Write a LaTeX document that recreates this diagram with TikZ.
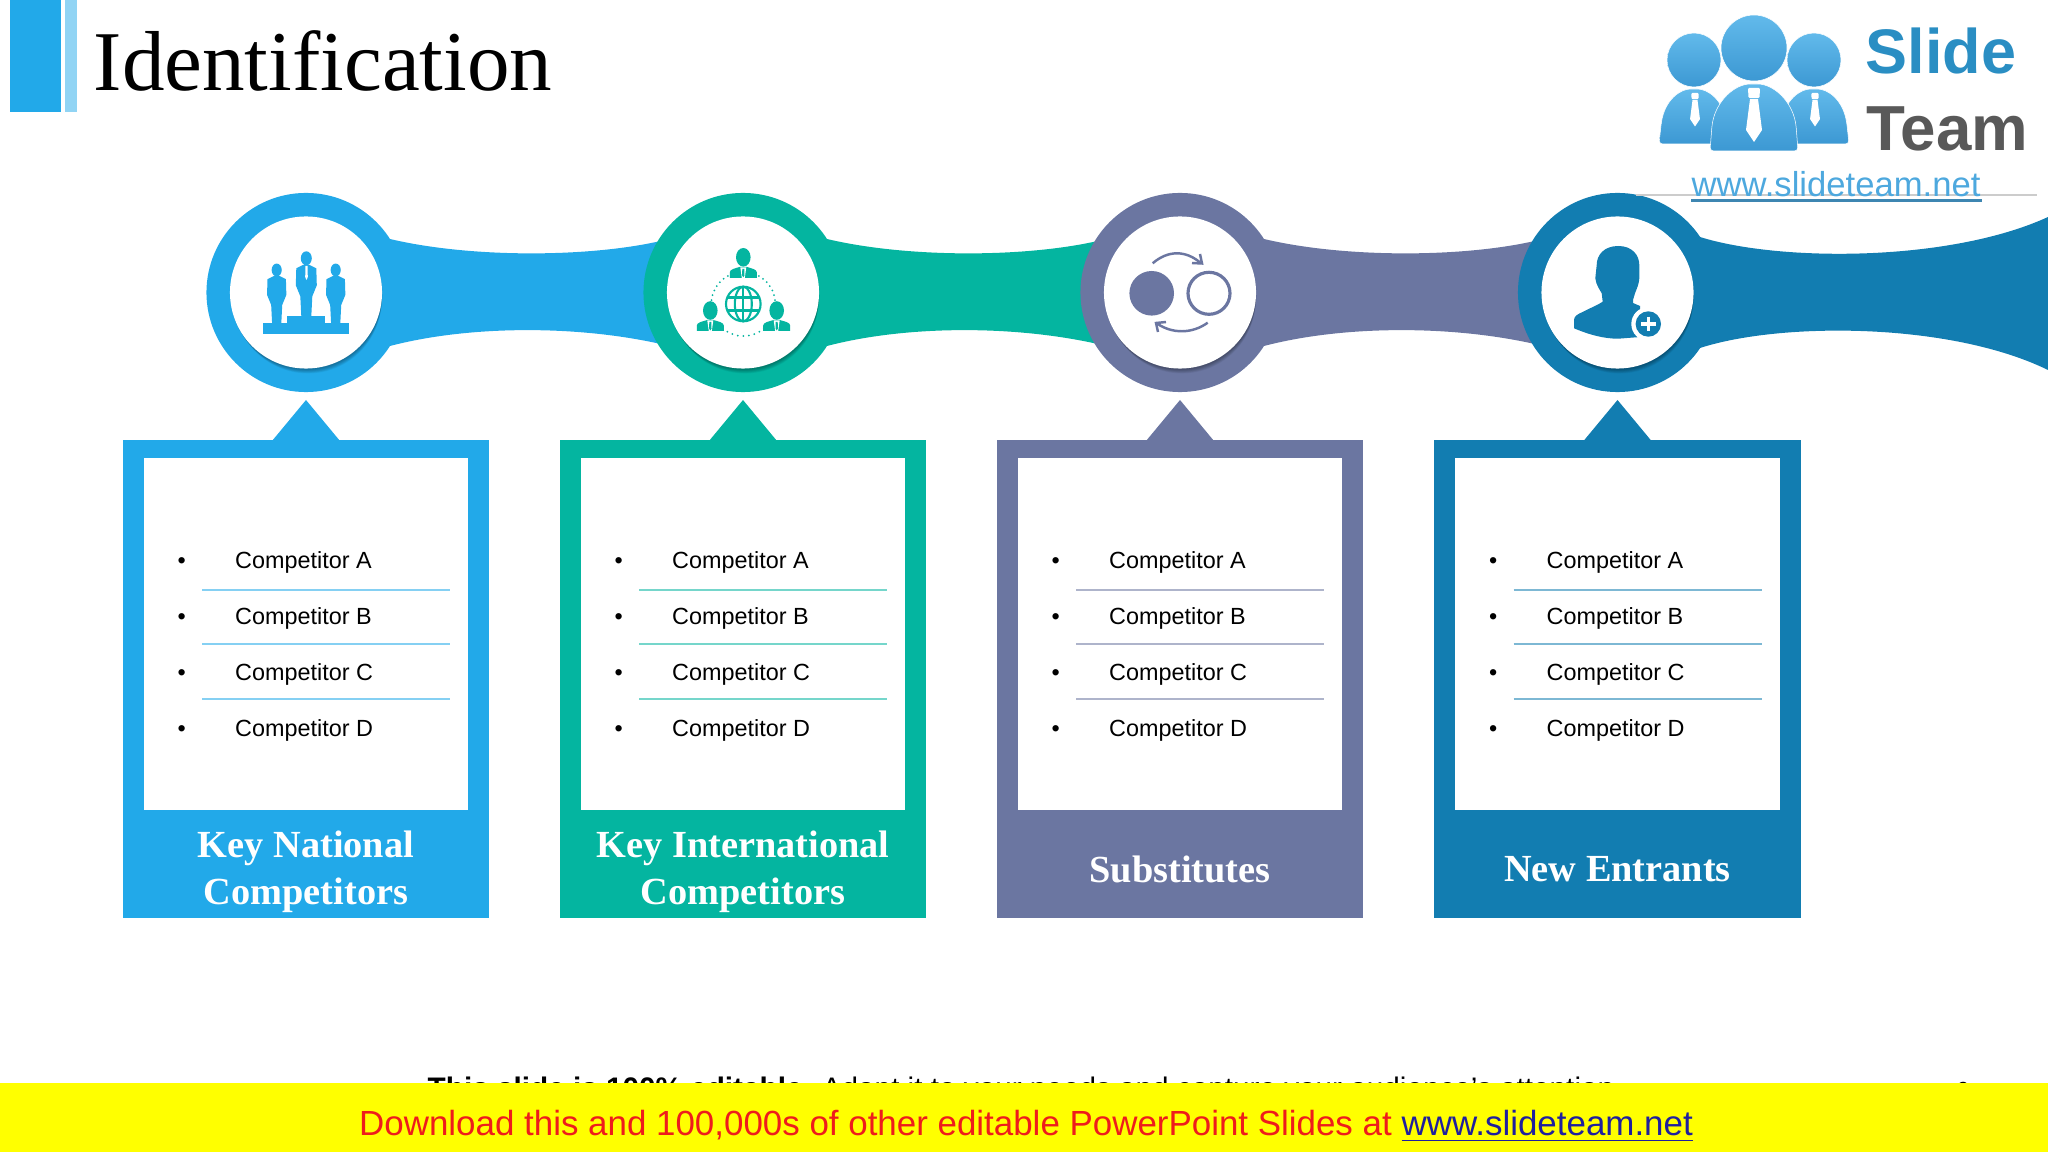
\documentclass[tikz,border=0pt]{standalone}
\usepackage{fontspec}
\setmainfont{Liberation Serif}
\setsansfont{Liberation Sans}
\definecolor{keyblue}{HTML}{22A9E9}
\definecolor{keyteal}{HTML}{04B5A0}
\definecolor{keyslate}{HTML}{6B76A1}
\definecolor{keydeep}{HTML}{127DB1}
\definecolor{logoblue}{HTML}{4DA8DE}
\definecolor{logolight}{HTML}{62BAEB}
\definecolor{logodark}{HTML}{3C98D3}
\definecolor{bannerfill}{HTML}{FFFF00}
\definecolor{bannerred}{HTML}{EE1C1C}
\definecolor{bannerblue}{HTML}{1F1F9E}
\tikzset{>=stealth,
  ring/.style={circle, inner sep=0pt, minimum size=1.99cm},
  disc/.style={circle, inner sep=0pt, minimum size=1.52cm, fill=white},
  panel/.style={inner sep=0pt, minimum width=3.66cm, minimum height=4.78cm},
  card/.style={inner sep=0pt, minimum width=3.24cm, minimum height=3.52cm, fill=white},
  paneltitle/.style={align=center, text=white, inner sep=0pt,
    font=\rmfamily\bfseries\fontsize{10.9}{13.4}\selectfont},
  rowtext/.style={anchor=base west, inner sep=0pt, font=\sffamily\fontsize{6.65}{8}\selectfont},
  logoshade/.style={top color=logolight, bottom color=logodark, draw=white, line width=0.15pt},
  standing/.pic={
    \fill (0,0) ellipse (5.5 and 7);
    \fill (-3,6.5) -- (-10,10) -- (-10.5,27) -- (-6,38) -- (-5,58) -- (5,58) -- (6,38) -- (10.5,27) -- (10,10) -- (3,6.5) -- cycle;
  },
  bust/.pic={
    \fill (0,0) ellipse (7.3 and 9.3);
    \fill (-13.5,20.5) -- (-13.5,15) .. controls (-13.5,12) and (-8,11) .. (-3,9.5) -- (3,9.5) .. controls (8,11) and (13.5,12) .. (13.5,15) -- (13.5,20.5) -- cycle;
    \fill[white] (-3,10) -- (3,10) -- (1.5,20.5) -- (-1.5,20.5) -- cycle;
    \fill (-1,11.5) -- (1,11.5) -- (1.2,18) -- (0,20) -- (-1.2,18) -- cycle;
  },
  logotie/.pic={
    \fill[white, rounded corners=0.3pt] (-6,0) -- (6,0) -- (5.5,10) -- (-5.5,10) -- cycle;
    \fill[white] (-4,11) -- (4,11) -- (8,42) -- (0,54) -- (-8,42) -- cycle;
  }
}
\begin{document}
\begin{tikzpicture}[x=0.01cm, y=-0.01cm]
\useasboundingbox (0,0) rectangle (2048,1152);

\fill[keyblue] (10,0) rectangle (61,112);
\fill[keyblue!50!white] (65,0) rectangle (76.5,112);
\node[anchor=base west, inner sep=0pt, font=\rmfamily\fontsize{24.2}{28}\selectfont] (slidetitle) at (93,91) {Identification};

\foreach \n/\col/\cx/\ty/\ttl in {1/keyblue/306/872/{Key National\\Competitors},
    2/keyteal/743/872/{Key International\\Competitors},
    3/keyslate/1180/869/{Substitutes},
    4/keydeep/1617.5/869/{New Entrants}}{
  \node[ring, fill=\col] (ring\n) at (\cx,292.5) {};
  \ifnum\n<4
  \fill[\col] (\cx+84,239) .. controls (\cx+164,258) and (\cx+284,258) .. (\cx+359,240)
    -- (\cx+359,345) .. controls (\cx+274,325) and (\cx+164,325) .. (\cx+84,346) -- cycle;
  \fi
  \fill[\col] (\cx-34,441) -- (\cx,400) -- (\cx+34,441) -- cycle;
  \node[panel, fill=\col] (panel\n) at (\cx,679) {};
  \node[card] (card\n) at (\cx,634) {};
  \foreach \r/\y in {A/568,B/624,C/680,D/736}{
    \node[rowtext] (bullet\n\r) at (\cx-129,\y) {•};
    \node[rowtext] (name\n\r) at (\cx-71.5,\y) {Competitor \r};
  }
  \foreach \y in {590,644,699}
  \draw[\col!55!white, line width=0.4pt] (\cx-104,\y) -- (\cx+144,\y);
  \node[paneltitle] (title\n) at (\cx,\ty) {\ttl};
}
\fill[keydeep] (1700,237) .. controls (1780,262) and (1950,262) .. (2048,217)
  -- (2048,370) .. controls (1950,322) and (1780,322) .. (1700,348) -- cycle;

\foreach \n/\cx in {1/306,2/743,3/1180,4/1617.5}{
  \foreach \s in {1,...,10}
  \fill[black, opacity=0.035] (\cx+\s*0.2,292.5+\s*0.75) circle (76.5-\s*0.3);
  \node[disc] (disc\n) at (\cx,292.5) {};
}

\fill[keyblue] (263,322.7) rectangle (349,334.3);
\fill[keyblue] (287,316) rectangle (325,323);
\pic[keyblue] at (306.3,258.3) {standing};
\pic[keyblue, scale=0.92] at (276.7,270) {standing};
\pic[keyblue, scale=0.92] at (335.7,270) {standing};
\fill[white] (305.5,266) -- (307.5,266) -- (307.8,277) -- (306.5,280) -- (305.2,277) -- cycle;

\pic[keyteal] at (743.3,257.3) {bust};
\pic[keyteal] at (710.3,310.5) {bust};
\pic[keyteal] at (776.7,310.5) {bust};
\draw[keyteal, line width=0.6pt] (743.3,304) circle (17.3);
\draw[keyteal, line width=0.6pt] (743.3,304) ellipse (8.5 and 17.3);
\draw[keyteal, line width=0.6pt] (743.3,287) -- (743.3,321);
\draw[keyteal, line width=0.6pt] (727.3,297.5) -- (759.3,297.5);
\draw[keyteal, line width=0.6pt] (727.3,310.5) -- (759.3,310.5);
\foreach \a in {50,60,...,130,187,196,...,241,299,308,...,353}
\fill[keyteal] (743.3,304) ++(\a:32) circle (1);

\fill[keyslate] (1151.7,293.3) circle (22.3);
\draw[keyslate, line width=0.9pt] (1209,293.3) circle (21);
\draw[keyslate, line width=0.7pt] (1152.7,263.3) .. controls (1168,250) and (1186,250) .. (1201,263.3);
\draw[keyslate, line width=0.7pt] (1200,254) -- (1202,263.5) -- (1192,263);
\draw[keyslate, line width=0.7pt] (1207.7,322.7) .. controls (1192,334) and (1172,334) .. (1156.7,323.3);
\draw[keyslate, line width=0.7pt] (1158,332) -- (1156,323) -- (1166,322);

\fill[keydeep] (1618.3,246) .. controls (1604,246) and (1596.7,255) .. (1596.7,265)
  -- (1595.3,278.3) .. controls (1596,285) and (1600,290) .. (1601.7,293.3)
  -- (1602.7,301.7) .. controls (1596,306) and (1590,308) .. (1583.3,311.7)
  .. controls (1578,314) and (1574,316) .. (1574,320) -- (1574,328.3)
  .. controls (1590,335) and (1604,338.7) .. (1618.3,338.7) -- (1640,337) -- (1640,306)
  -- (1633,303) -- (1633,300) -- (1635,293.3) .. controls (1637,288) and (1639,284) .. (1639.3,278.3)
  -- (1639.3,265) .. controls (1639.3,255) and (1632,246) .. (1618.3,246) -- cycle;
\fill[white] (1648.3,324) circle (17);
\fill[keydeep] (1648.3,324) circle (12.7);
\draw[white, line width=0.9pt] (1641,324) -- (1655.6,324);
\draw[white, line width=0.9pt] (1648.3,316.7) -- (1648.3,331.3);

\foreach \bx in {1694,1814}{
  \path[logoshade, rounded corners=1pt] (\bx-35,144) -- (\bx-33,125) .. controls (\bx-29,100) and (\bx-14,89) .. (\bx,89)
    .. controls (\bx+14,89) and (\bx+29,100) .. (\bx+33,125) -- (\bx+35,144) -- cycle;
  \pic[scale=0.62] at (\bx+1,93) {logotie};
  \path[logoshade] (\bx,60) circle (27);
}
\path[logoshade, rounded corners=1pt] (1710,151) -- (1712,125) .. controls (1717,100) and (1735,84) .. (1754,84)
  .. controls (1773,84) and (1791,100) .. (1796,125) -- (1798,151) -- cycle;
\pic[scale=1] at (1754,88) {logotie};
\path[logoshade] (1754,48) circle (33);
\node[anchor=base west, inner sep=0pt, text=logoblue!40!keydeep, font=\sffamily\bfseries\fontsize{17.9}{20}\selectfont] (logoslide) at (1865,74) {Slide};
\node[anchor=base west, inner sep=0pt, text=black!65, font=\sffamily\bfseries\fontsize{18.1}{20}\selectfont] (logoteam) at (1866,151) {Team};
\draw[black!20, line width=0.3pt] (1636,195) -- (2037,195);
\node[anchor=base west, inner sep=0pt, text=logoblue, font=\sffamily\fontsize{9.85}{12}\selectfont] (logourl) at (1691,196.5) {www.slideteam.net};
\draw[logoblue!80!black, line width=0.7pt] (1691,200.5) -- (1982,200.5);

\node[anchor=base west, inner sep=0pt, font=\sffamily\fontsize{8.45}{10}\selectfont] (notice) at (427,1098) {\textbf{This slide is 100\% editable.} Adapt it to your needs and capture your audience's attention.};
\node[anchor=base, inner sep=0pt, font=\sffamily\fontsize{5.8}{7}\selectfont] (pageno) at (1963,1096) {2};
\node[fill=bannerfill, inner sep=0pt, minimum width=20.48cm, minimum height=0.69cm] (banner) at (1024,1117.5) {};
\node[anchor=base west, inner sep=0pt, text=bannerred, font=\sffamily\fontsize{9.93}{12}\selectfont] (download) at (358.5,1135) {Download this and 100,000s of other editable PowerPoint Slides at \textcolor{bannerblue}{\underline{www.slideteam.net}}};
\end{tikzpicture}
\end{document}
